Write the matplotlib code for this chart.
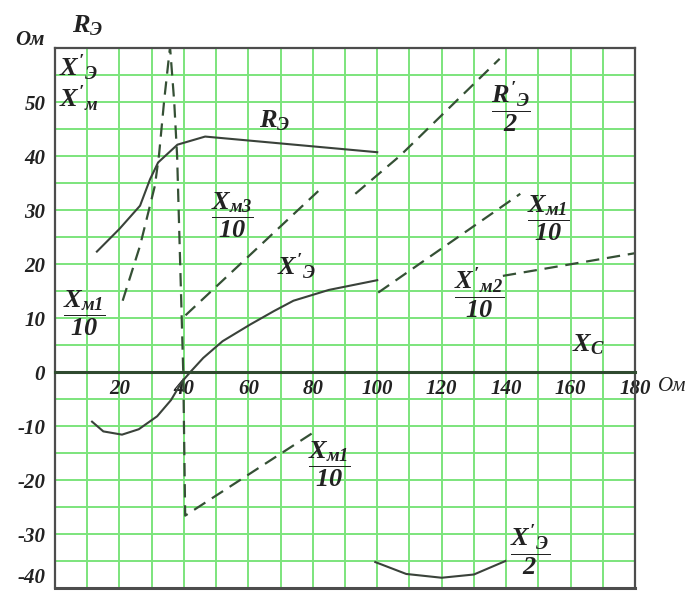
import matplotlib
matplotlib.use('Agg')
import matplotlib.pyplot as plt
import numpy as np

plt.rcParams['font.family'] = ['Liberation Serif', 'DejaVu Serif']
plt.rcParams['font.style'] = 'italic'
plt.rcParams['font.weight'] = 'bold'
plt.rcParams['mathtext.fontset'] = 'custom'
plt.rcParams['mathtext.rm'] = 'Liberation Serif:italic:bold'
plt.rcParams['mathtext.it'] = 'Liberation Serif:italic:bold'
plt.rcParams['mathtext.bf'] = 'Liberation Serif:bold'

# curves (x in Ом, y in Ом)
r_e_x = [13, 20, 26.4, 29.5, 32, 38, 46.6, 100]
r_e_y = [22.3, 26.5, 30.8, 35.7, 38.8, 42.1, 43.6, 40.7]

x_e_x = [11.5, 15, 20.8, 26, 31.7, 36, 39.4, 42, 46, 52, 60.6, 68, 74, 85, 100]
x_e_y = [-9.2, -11, -11.6, -10.6, -8.2, -5.2, -1.8, 0, 2.6, 5.7, 8.8, 11.3, 13.2, 15.2, 17]

x_e_half_x = [99.4, 109, 120, 130, 139.8]
x_e_half_y = [-35.2, -37.4, -38.1, -37.5, -35]

xm1_x = [21, 26.4, 31, 32.3, 33.9, 35.7, 37, 37.9, 39.8, 40.4, 80.7]
xm1_y = [13.2, 23.4, 34.5, 40.3, 50.4, 60.2, 50, 40, 0, -26.6, -11]

xm3_x = [40.5, 81.7]
xm3_y = [10.5, 33.5]

r_e_half_x = [93.2, 107, 138]
r_e_half_y = [33, 40, 58]

xm1_right_x = [100.3, 144.4]
xm1_right_y = [14.7, 33]

xm2_x = [139, 180]
xm2_y = [17.8, 22]

x_ticks = [20, 40, 60, 80, 100, 120, 140, 160, 180]
y_ticks = [-40, -30, -20, -10, 0, 10, 20, 30, 40, 50]

grid_col = '#7ce47c'
solid_col = '#3a423a'
dash_col = '#355035'
text_col = '#222222'

fig = plt.figure(figsize=(6.85, 5.94), dpi=100)
ax = fig.add_axes([55/685, 6/594, 580/685, 540/594])
ax.set_xlim(0, 180)
ax.set_ylim(-40, 60)

ax.set_xticks(x_ticks)
ax.set_xticklabels([str(v) for v in x_ticks])
ax.set_yticks(y_ticks)
ax.set_yticklabels([str(v) for v in y_ticks])
ax.set_xticks(np.arange(0, 181, 10), minor=True)
ax.set_yticks(np.arange(-40, 61, 5), minor=True)
ax.grid(which='both', color=grid_col, lw=1.4)
ax.set_axisbelow(True)
ax.tick_params(which='both', length=0)
ax.tick_params(axis='x', pad=5, labelsize=15, labelcolor=text_col)
ax.tick_params(axis='y', pad=7, labelsize=15, labelcolor=text_col)
ax.get_xticklabels()[1].set_ha('right')
ax.get_yticklabels()[0].set_va('bottom')

for s in ['left', 'right', 'top']:
    ax.spines[s].set_color('#4d4d4d')
    ax.spines[s].set_linewidth(1.6)
ax.spines['bottom'].set_position(('data', 0))
ax.spines['bottom'].set_color('#2f4a2f')
ax.spines['bottom'].set_linewidth(2.2)
ax.axhline(ax.get_ylim()[0], color='#4d4d4d', lw=2.2, clip_on=False)

ax.plot(r_e_x, r_e_y, color=solid_col, lw=1.5)
ax.plot(x_e_x, x_e_y, color=solid_col, lw=1.5)
ax.plot(x_e_half_x, x_e_half_y, color=solid_col, lw=1.5)

dash = dict(color=dash_col, lw=1.6, dashes=(6, 3.5), dash_capstyle='butt')
ax.plot(xm1_x, xm1_y, **dash)
ax.plot(xm3_x, xm3_y, **dash)
ax.plot(r_e_half_x, r_e_half_y, **dash)
ax.plot(xm1_right_x, xm1_right_y, **dash)
ax.plot(xm2_x, xm2_y, **dash)

tk = dict(color=text_col, ha='center', va='center', fontsize=19)
ax.text(68, 46.5, r'$R_{Э}$', **tk)
ax.text(75, 19.5, r"$X'_{Э}$", **tk)
ax.text(55, 29, r'$\dfrac{X_{м3}}{10}$', **tk)
ax.text(9, 11, r'$\dfrac{X_{м1}}{10}$', **tk)
ax.text(141.5, 49, r"$\dfrac{R'_{Э}}{2}$", **tk)
ax.text(153, 28.5, r'$\dfrac{X_{м1}}{10}$', **tk)
ax.text(131.5, 14.5, r"$\dfrac{X'_{м2}}{10}$", **tk)
ax.text(165.5, 5, r'$X_{C}$', **tk)
ax.text(85, -17, r'$\dfrac{X_{м1}}{10}$', **tk)
ax.text(147.5, -33, r"$\dfrac{X'_{Э}}{2}$", **tk)
ax.text(7.5, 56.3, r"$X'_{Э}$", **tk)
ax.text(7.5, 50.5, r"$X'_{м}$", **tk)
ax.text(187, -2.6, 'Ом', color=text_col, fontsize=15, weight='normal',
        ha='left', va='center', clip_on=False)

fig.text(30/685, 1-40/594, 'Ом', color=text_col, fontsize=15,
         ha='center', va='center')
fig.text(88/685, 1-26/594, r'$R_{Э}$', color=text_col, fontsize=19,
         ha='center', va='center')

fig.savefig('out.png', dpi=100)
